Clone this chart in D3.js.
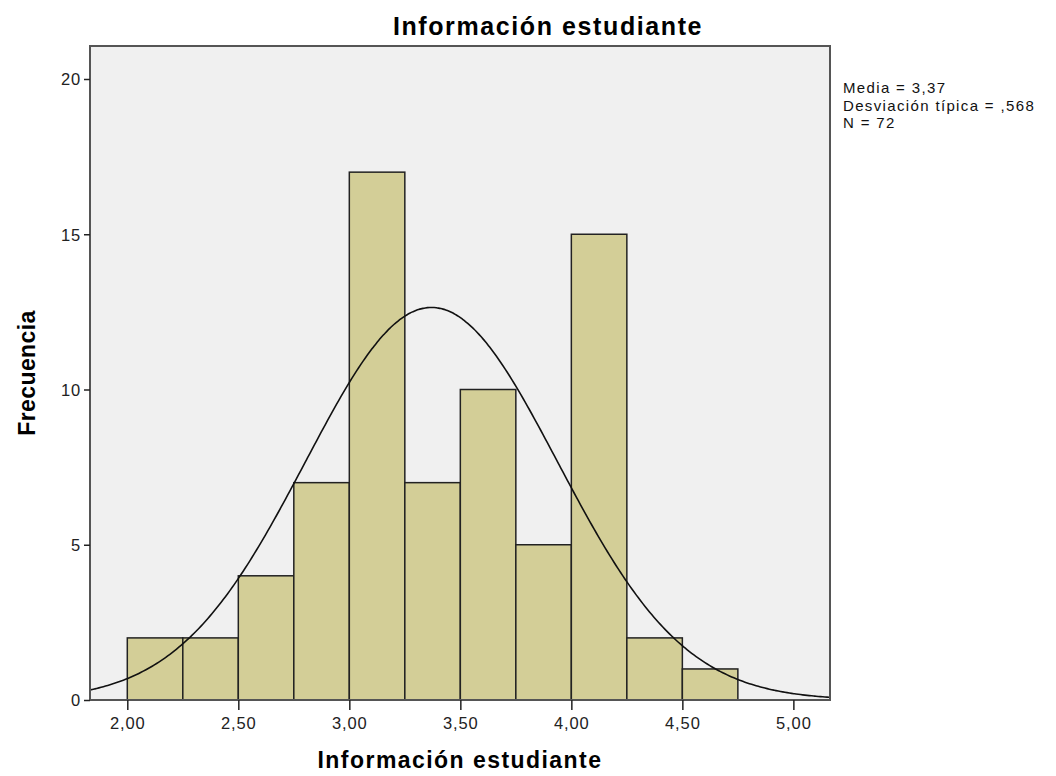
<!DOCTYPE html>
<html><head><meta charset="utf-8">
<script src="https://cdn.jsdelivr.net/npm/d3@7"></script>
<style>body{margin:0;background:#fff;} text{font-family:"Liberation Sans",Arial,sans-serif;}</style>
</head><body><svg id="c" width="1056" height="776"></svg>
<script>
const binStarts = [2.00,2.25,2.50,2.75,3.00,3.25,3.50,3.75,4.00,4.25,4.50];
const binWidth = 0.25;
const frequencies = [2,2,4,7,17,7,10,5,15,2,1];
const yTicks = [0,5,10,15,20];
const xTicks = [2.0,2.5,3.0,3.5,4.0,4.5,5.0];
const statsLabels = ["Media = 3,37","Desviación típica = ,568","N = 72"];
const mean = 3.37, sd = 0.568, n = 72;

const svg = d3.select("#c");
const L=90, R=830, T=46, B=700;
const x = d3.scaleLinear().domain([1.832,5.165]).range([L,R]);
const y = d3.scaleLinear().domain([0,20]).range([B,79]);

svg.append("rect").attr("x",L).attr("y",T).attr("width",R-L).attr("height",B-T).attr("fill","#f0f0f0");

svg.selectAll("rect.bar").data(binStarts).enter().append("rect").attr("class","bar")
  .attr("x",d=>x(d)).attr("width",(d)=>x(d+binWidth)-x(d))
  .attr("y",(d,i)=>y(frequencies[i])).attr("height",(d,i)=>y(0)-y(frequencies[i]))
  .attr("fill","#d3ce97").attr("stroke","#222").attr("stroke-width",1.5);

const curveX = d3.range(1.832,5.166,0.01);
const pdf = v => n*binWidth*Math.exp(-0.5*((v-mean)/sd)**2)/(sd*Math.sqrt(2*Math.PI));
const line = d3.line().x(d=>x(d)).y(d=>y(pdf(d))).curve(d3.curveBasis);
svg.append("path").datum(curveX).attr("d",line).attr("fill","none").attr("stroke","#111").attr("stroke-width",1.6);

svg.append("rect").attr("x",L).attr("y",T).attr("width",R-L).attr("height",B-T).attr("fill","none").attr("stroke","#555").attr("stroke-width",2);

const yAxis = svg.append("g").attr("transform",`translate(${L},0)`)
  .call(d3.axisLeft(y).tickValues(yTicks).tickSize(6).tickPadding(3).tickFormat(d3.format("d")));
yAxis.select(".domain").remove();
yAxis.selectAll("line").attr("stroke","#222").attr("stroke-width",1.5);
yAxis.selectAll("text").attr("font-size",16.5).attr("letter-spacing",0.8).attr("fill","#222").attr("dy","0.36em");

const xAxis = svg.append("g").attr("transform",`translate(0,${B})`)
  .call(d3.axisBottom(x).tickValues(xTicks).tickSize(10).tickPadding(7).tickFormat(d=>d.toFixed(2).replace(".",",")));
xAxis.select(".domain").remove();
xAxis.selectAll("line").attr("stroke","#222").attr("stroke-width",1.5);
xAxis.selectAll("text").attr("font-size",16.5).attr("letter-spacing",0.9).attr("fill","#222");

svg.append("text").attr("x",548).attr("y",35).attr("text-anchor","middle").attr("font-size",25).attr("letter-spacing",1.6).attr("font-weight","bold").text("Información estudiante");
svg.append("text").attr("x",460).attr("y",768).attr("text-anchor","middle").attr("font-size",23).attr("letter-spacing",1.45).attr("font-weight","bold").text("Información estudiante");
svg.append("text").attr("transform","translate(35,373) rotate(-90)").attr("text-anchor","middle").attr("font-size",23).attr("letter-spacing",0.4).attr("font-weight","bold").text("Frecuencia");

svg.append("g").selectAll("text").data(statsLabels).enter().append("text")
  .attr("x",843).attr("y",(d,i)=>93+i*17.5).attr("font-size",15).attr("letter-spacing",1.35).attr("fill","#111").text(d=>d);
</script></body></html>
